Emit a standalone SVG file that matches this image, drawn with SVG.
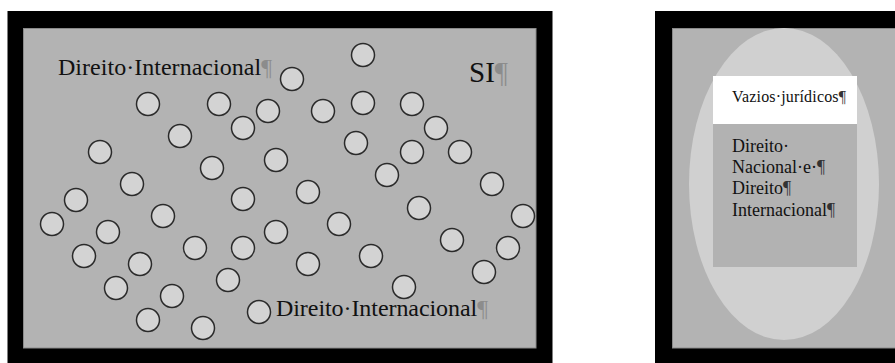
<svg xmlns="http://www.w3.org/2000/svg" width="895" height="363" viewBox="0 0 895 363">
<style>
.frame{fill:#000}
.bg{fill:#b3b3b3;stroke:#8a8a8a;stroke-width:1}
.c{fill:#d3d3d3;stroke:#2a2a2a;stroke-width:1.5}
.t{font-family:"Liberation Serif","Times New Roman",serif;fill:#111}
.pm{fill:#8c8c8c}
.pd{fill:#333}
</style>
<rect width="895" height="363" fill="#fff"/>
<g id="panel-left">
<rect class="frame" x="7.5" y="11" width="545" height="352"/>
<rect class="bg" x="23.5" y="28.5" width="512.5" height="319.5"/>
</g>
<g id="circles">
<circle class="c" cx="363" cy="55" r="11.5"/>
<circle class="c" cx="292" cy="79" r="11.5"/>
<circle class="c" cx="148" cy="104" r="11.5"/>
<circle class="c" cx="219" cy="104" r="11.5"/>
<circle class="c" cx="268" cy="111" r="11.5"/>
<circle class="c" cx="323" cy="111" r="11.5"/>
<circle class="c" cx="363" cy="103" r="11.5"/>
<circle class="c" cx="412" cy="104" r="11.5"/>
<circle class="c" cx="243" cy="128" r="11.5"/>
<circle class="c" cx="436" cy="128" r="11.5"/>
<circle class="c" cx="180" cy="136" r="11.5"/>
<circle class="c" cx="356" cy="143" r="11.5"/>
<circle class="c" cx="100" cy="152" r="11.5"/>
<circle class="c" cx="412" cy="152" r="11.5"/>
<circle class="c" cx="460" cy="152" r="11.5"/>
<circle class="c" cx="276" cy="160" r="11.5"/>
<circle class="c" cx="212" cy="168" r="11.5"/>
<circle class="c" cx="387" cy="175" r="11.5"/>
<circle class="c" cx="132" cy="184" r="11.5"/>
<circle class="c" cx="492" cy="184" r="11.5"/>
<circle class="c" cx="76" cy="200" r="11.5"/>
<circle class="c" cx="243" cy="199" r="11.5"/>
<circle class="c" cx="308" cy="192" r="11.5"/>
<circle class="c" cx="419" cy="208" r="11.5"/>
<circle class="c" cx="163" cy="216" r="11.5"/>
<circle class="c" cx="523" cy="216" r="11.5"/>
<circle class="c" cx="52" cy="224" r="11.5"/>
<circle class="c" cx="108" cy="232" r="11.5"/>
<circle class="c" cx="276" cy="232" r="11.5"/>
<circle class="c" cx="339" cy="224" r="11.5"/>
<circle class="c" cx="452" cy="240" r="11.5"/>
<circle class="c" cx="195" cy="248" r="11.5"/>
<circle class="c" cx="243" cy="248" r="11.5"/>
<circle class="c" cx="508" cy="248" r="11.5"/>
<circle class="c" cx="84" cy="256" r="11.5"/>
<circle class="c" cx="140" cy="264" r="11.5"/>
<circle class="c" cx="308" cy="264" r="11.5"/>
<circle class="c" cx="371" cy="256" r="11.5"/>
<circle class="c" cx="484" cy="272" r="11.5"/>
<circle class="c" cx="228" cy="280" r="11.5"/>
<circle class="c" cx="116" cy="288" r="11.5"/>
<circle class="c" cx="172" cy="296" r="11.5"/>
<circle class="c" cx="404" cy="287" r="11.5"/>
<circle class="c" cx="148" cy="320" r="11.5"/>
<circle class="c" cx="203" cy="328" r="11.5"/>
<circle class="c" cx="259" cy="312" r="11.5"/>
</g>
<g id="label-top">
<text class="t" x="58" y="75" font-size="24" textLength="214">Direito·Internacional<tspan class="pm">¶</tspan></text>
</g>
<g id="label-si">
<text class="t" x="469" y="82" font-size="29">SI<tspan class="pm">¶</tspan></text>
</g>
<g id="label-bottom">
<text class="t" x="276" y="316" font-size="24" textLength="212">Direito·Internacional<tspan class="pm">¶</tspan></text>
</g>
<g id="panel-right">
<rect class="frame" x="655" y="11" width="245" height="352"/>
<rect class="bg" x="672.5" y="28.5" width="230" height="319.5"/>
<ellipse cx="784" cy="184" rx="95" ry="156" fill="#d0d0d0"/>
</g>
<g id="box-vazios">
<rect x="713" y="76" width="144" height="48" fill="#fff"/>
<text class="t" x="732" y="102" font-size="16" textLength="114">Vazios·jurídicos<tspan class="pd">¶</tspan></text>
</g>
<g id="box-direito">
<rect x="713" y="124" width="144" height="143" fill="#b2b2b2"/>
<text class="t" font-size="18">
<tspan x="732" y="152">Direito·</tspan>
<tspan x="732" y="173">Nacional·e·<tspan class="pd">¶</tspan></tspan>
<tspan x="732" y="194">Direito<tspan class="pd">¶</tspan></tspan>
<tspan x="732" y="216">Internacional<tspan class="pd">¶</tspan></tspan>
</text>
</g>
</svg>
